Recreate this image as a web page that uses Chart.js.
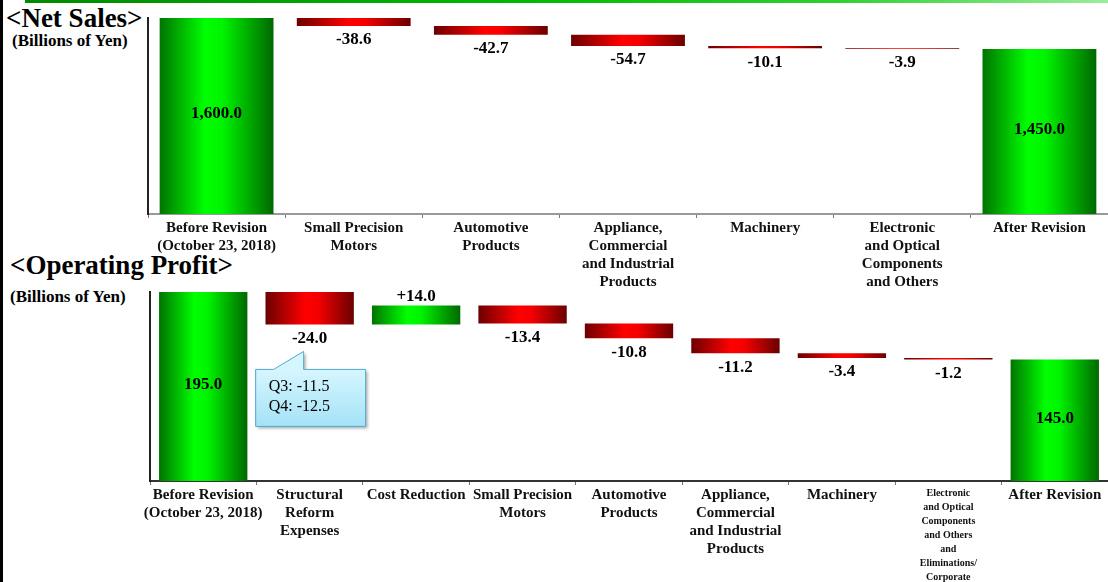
<!DOCTYPE html>
<html>
<head>
<meta charset="utf-8">
<script src="https://cdn.jsdelivr.net/npm/chart.js@4/dist/chart.umd.min.js"></script>
<style>
  body { margin: 0; background: #fff; font-family: "Liberation Serif", "Times New Roman", serif; }
  #page { position: relative; width: 1108px; height: 582px; overflow: hidden; }
  .edge { position: absolute; left: 0; top: 0; width: 3px; height: 582px; background: #000; }
  .topline { position: absolute; left: 25px; top: 0; width: 1083px; height: 3px;
    background: linear-gradient(to right, #008a00, #00b800 45%, #30d030 75%, #9aee9a); }
  .head { position: absolute; font-weight: bold; color: #000; white-space: nowrap; }
  .big { font-size: 27px; line-height: 27px; }
  .unit { font-size: 17px; line-height: 17px; }
  canvas { position: absolute; left: 0; }
</style>
</head>
<body>
<div id="page">
  <div class="topline"></div>
  <div class="edge"></div>
  <div class="head big" style="left:6px; top:5px;">&lt;Net Sales&gt;</div>
  <div class="head unit" style="left:12px; top:32px;">(Billions of Yen)</div>
  <div class="head big" style="left:10px; top:252px;">&lt;Operating Profit&gt;</div>
  <div class="head unit" style="left:10px; top:288px;">(Billions of Yen)</div>
  <div style="position:absolute; left:0; top:0; width:1108px; height:300px;"><canvas id="sales"></canvas></div>
  <div style="position:absolute; left:0; top:250px; width:1108px; height:332px;"><canvas id="profit"></canvas></div>
</div>
<script>
// net sales: revision walk, first and last entries are totals
const salesCategories = [
  ["Before Revision", "(October 23, 2018)"],
  ["Small Precision", "Motors"],
  ["Automotive", "Products"],
  ["Appliance,", "Commercial", "and Industrial", "Products"],
  ["Machinery"],
  ["Electronic", "and Optical", "Components", "and Others"],
  ["After Revision"]
];
const salesValues = [1600.0, -38.6, -42.7, -54.7, -10.1, -3.9, 1450.0];

// operating profit: same layout, one extra step for cost reduction
const profitCategories = [
  ["Before Revision", "(October 23, 2018)"],
  ["Structural", "Reform", "Expenses"],
  ["Cost Reduction"],
  ["Small Precision", "Motors"],
  ["Automotive", "Products"],
  ["Appliance,", "Commercial", "and Industrial", "Products"],
  ["Machinery"],
  ["Electronic", "and Optical", "Components", "and Others", "and", "Eliminations/", "Corporate"],
  ["After Revision"]
];
const profitValues = [195.0, -24.0, 14.0, -13.4, -10.8, -11.2, -3.4, -1.2, 145.0];
const profitNote = ["Q3: -11.5", "Q4: -12.5"];

const FONT = "'Liberation Serif', 'Times New Roman', serif";
const BAR_PCT = 0.83;

// turn the step values into floating [from, to] ranges
function steps(values) {
  let run = 0;
  const last = values.length - 1;
  return values.map((v, i) => {
    if (i === 0 || i === last) { run = v; return [0, v]; }
    const from = run;
    run += v;
    return [from, run];
  });
}

function isTotal(i, n) { return i === 0 || i === n - 1; }

// horizontal shading across each bar: dark edges, bright middle
function barFill(ctx) {
  const chart = ctx.chart;
  if (!chart.chartArea || ctx.dataIndex === undefined) return '#00c000';
  const xs = chart.scales.x;
  const vals = ctx.dataset.changes;
  const cx = xs.getPixelForValue(ctx.dataIndex);
  const w = xs.width / vals.length * BAR_PCT;
  const g = chart.ctx.createLinearGradient(cx - w / 2, 0, cx + w / 2, 0);
  const v = vals[ctx.dataIndex];
  if (v < 0 && !isTotal(ctx.dataIndex, vals.length)) {
    g.addColorStop(0, '#6c0000');
    g.addColorStop(0.45, '#ff0000');
    g.addColorStop(0.6, '#f40000');
    g.addColorStop(1, '#6a0000');
  } else {
    g.addColorStop(0, '#007400');
    g.addColorStop(0.4, '#00ff00');
    g.addColorStop(0.55, '#00f400');
    g.addColorStop(1, '#006800');
  }
  return g;
}

const valueLabels = {
  id: 'valueLabels',
  afterDatasetsDraw(chart) {
    const ctx = chart.ctx;
    const meta = chart.getDatasetMeta(0);
    const vals = chart.data.datasets[0].changes;
    const area = chart.chartArea;
    ctx.save();
    ctx.font = 'bold 17px ' + FONT;
    ctx.fillStyle = '#000';
    ctx.textAlign = 'center';
    ctx.textBaseline = 'middle';
    meta.data.forEach((bar, i) => {
      const p = bar.getProps(['x', 'y', 'base'], true);
      const top = Math.max(Math.min(p.y, p.base), area.top);
      const bottom = Math.min(Math.max(p.y, p.base), area.bottom);
      const v = vals[i];
      if (isTotal(i, vals.length)) {
        const txt = v.toLocaleString('en-US', { minimumFractionDigits: 1, maximumFractionDigits: 1 });
        ctx.fillText(txt, p.x, (top + bottom) / 2 - 2);
      } else if (v < 0) {
        ctx.fillText(v.toFixed(1), p.x, bottom + 14);
      } else {
        ctx.fillText('+' + v.toFixed(1), p.x, top - 9);
      }
    });
    ctx.restore();
  }
};

// speech-bubble note hanging under the structural reform bar
const noteBubble = {
  id: 'noteBubble',
  afterDatasetsDraw(chart) {
    if (chart.canvas.id !== 'profit') return;
    const bar = chart.getDatasetMeta(0).data[1];
    const p = bar.getProps(['x', 'y', 'base'], true);
    const bx = p.x, by = Math.max(p.y, p.base);
    const left = bx - 54, right = bx + 56, top = by + 45, bot = by + 102;
    const tipX = bx - 6, tipY = by + 27;
    const ctx = chart.ctx;
    ctx.save();
    ctx.beginPath();
    ctx.moveTo(left, top);
    ctx.lineTo(left + 18, top);
    ctx.lineTo(tipX, tipY);
    ctx.lineTo(tipX, top);
    ctx.lineTo(right, top);
    ctx.lineTo(right, bot);
    ctx.lineTo(left, bot);
    ctx.closePath();
    const g = ctx.createLinearGradient(0, top, 0, bot);
    g.addColorStop(0, '#d6f6ff');
    g.addColorStop(1, '#a4e2f6');
    ctx.shadowColor = 'rgba(0,0,0,0.3)';
    ctx.shadowOffsetX = 2;
    ctx.shadowOffsetY = 2;
    ctx.shadowBlur = 3;
    ctx.fillStyle = g;
    ctx.fill();
    ctx.shadowColor = 'transparent';
    ctx.strokeStyle = '#4fa9cc';
    ctx.lineWidth = 1;
    ctx.stroke();
    ctx.fillStyle = '#000';
    ctx.font = '16px ' + FONT;
    ctx.textAlign = 'left';
    ctx.textBaseline = 'middle';
    profitNote.forEach((line, k) => ctx.fillText(line, left + 13, top + 17 + k * 20));
    ctx.restore();
  }
};

function waterfall(id, labels, values, yMin, yMax, opts) {
  return new Chart(document.getElementById(id), {
    type: 'bar',
    data: {
      labels: labels,
      datasets: [{
        data: steps(values),
        changes: values,
        backgroundColor: barFill,
        borderWidth: 0,
        barPercentage: BAR_PCT,
        categoryPercentage: 1
      }]
    },
    options: {
      responsive: true,
      maintainAspectRatio: false,
      animation: false,
      layout: { autoPadding: false, padding: { top: opts.padTop, left: 0, right: 0, bottom: 0 } },
      plugins: { legend: { display: false }, tooltip: { enabled: false } },
      scales: {
        x: {
          afterFit: s => { s.height = opts.axisHeight; },
          grid: { display: true, drawOnChartArea: false, tickLength: 4, color: '#777' },
          border: { display: true, color: opts.baseColor, width: 2 },
          ticks: {
            maxRotation: 0,
            autoSkip: false,
            padding: 1,
            color: '#111',
            font: c => (opts.smallIndex === c.index
              ? { family: FONT, size: 10, weight: 'bold', lineHeight: 1.4 }
              : { family: FONT, size: 15, weight: 'bold', lineHeight: 1.2 })
          }
        },
        y: {
          min: yMin,
          max: yMax,
          afterFit: s => { s.width = opts.axisWidth; },
          grid: { display: false },
          border: { display: true, color: '#222', width: 2 },
          ticks: { display: false }
        }
      }
    },
    plugins: [valueLabels, noteBubble]
  });
}

waterfall('sales', salesCategories, salesValues, 650, 1600,
  { padTop: 18, axisHeight: 86, axisWidth: 148, baseColor: '#999', smallIndex: -1 });
waterfall('profit', profitCategories, profitValues, 55, 195,
  { padTop: 42, axisHeight: 101, axisWidth: 150, baseColor: '#333', smallIndex: 7 });
</script>
</body>
</html>
